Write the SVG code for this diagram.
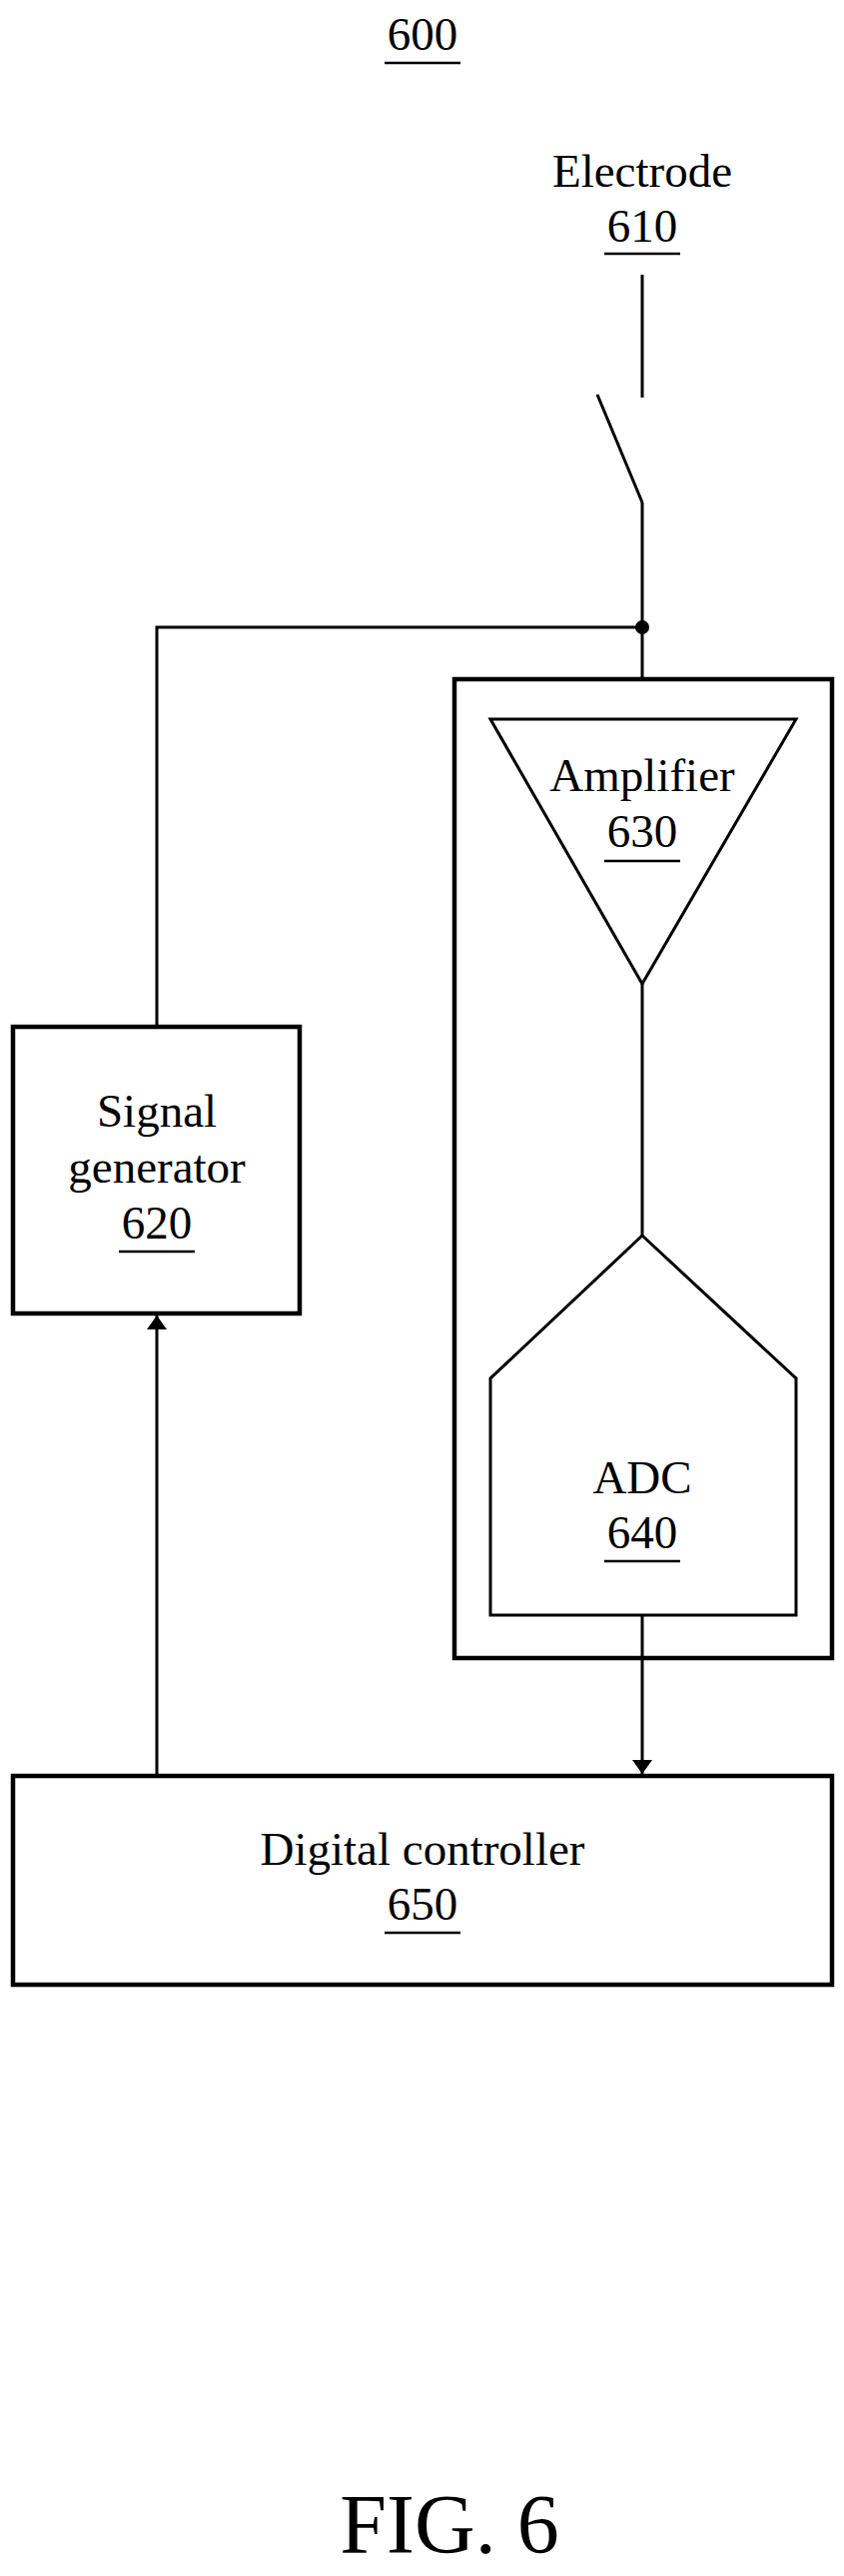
<svg xmlns="http://www.w3.org/2000/svg" width="845" height="2579" viewBox="0 0 845 2579">
<defs>
<style>
text{font-family:"Liberation Serif","Times New Roman",serif;font-size:47px;fill:#000;text-anchor:middle}
.b{fill:none;stroke:#000;stroke-width:4.5}
.w{fill:none;stroke:#000;stroke-width:3}
.u{stroke:#000;stroke-width:2.5}
</style>
<marker id="ah" markerWidth="14" markerHeight="20" refX="14" refY="10" orient="auto" markerUnits="userSpaceOnUse" viewBox="0 0 14 20">
<path d="M0,0 L14,10 L0,20 Z" fill="#000"/>
</marker>
</defs>
<rect width="845" height="2579" fill="#fff"/>
<g id="title"><text x="423" y="50">600</text><line class="u" x1="385" y1="63" x2="461" y2="63"/></g>
<g id="electrode">
<text x="643" y="187">Electrode</text><text x="643" y="242">610</text><line class="u" x1="605" y1="254" x2="681" y2="254"/>
<line class="w" x1="643" y1="275" x2="643" y2="398"/>
<line class="w" x1="598" y1="395" x2="643" y2="503"/>
</g>
<g id="amp-block">
<rect class="b" x="455" y="680" width="378" height="980"/>
</g>
<g id="amplifier">
<polygon class="w" points="491,720 797,720 643,985"/>
<text x="643" y="792">Amplifier</text><text x="643" y="848">630</text><line class="u" x1="605" y1="862" x2="681" y2="862"/>
</g>
<g id="adc">
<polygon class="w" points="643,1237 797,1380 797,1617 491,1617 491,1380"/>
<text x="643" y="1495">ADC</text><text x="643" y="1550">640</text><line class="u" x1="605" y1="1563" x2="681" y2="1563"/>
</g>
<g id="signal-generator">
<rect class="b" x="13" y="1028" width="287" height="287"/>
<text x="157" y="1128">Signal</text><text x="157" y="1184">generator</text><text x="157" y="1240">620</text><line class="u" x1="119" y1="1253" x2="195" y2="1253"/>
</g>
<g id="digital-controller">
<rect class="b" x="13" y="1778" width="820" height="209"/>
<text x="423" y="1867">Digital controller</text><text x="423" y="1922">650</text><line class="u" x1="385" y1="1935" x2="461" y2="1935"/>
</g>
<g id="connectors">
<polyline class="w" points="643,503 643,680"/>
<polyline class="w" points="643,628 157,628 157,1028"/>
<circle cx="643" cy="628" r="7" fill="#000"/>
<line class="w" x1="643" y1="985" x2="643" y2="1237"/>
<line class="w" x1="643" y1="1617" x2="643" y2="1776" marker-end="url(#ah)"/>
<line class="w" x1="157" y1="1778" x2="157" y2="1317" marker-end="url(#ah)"/>
</g>
<text x="450" y="2556" style="font-size:84px">FIG. 6</text>
</svg>
